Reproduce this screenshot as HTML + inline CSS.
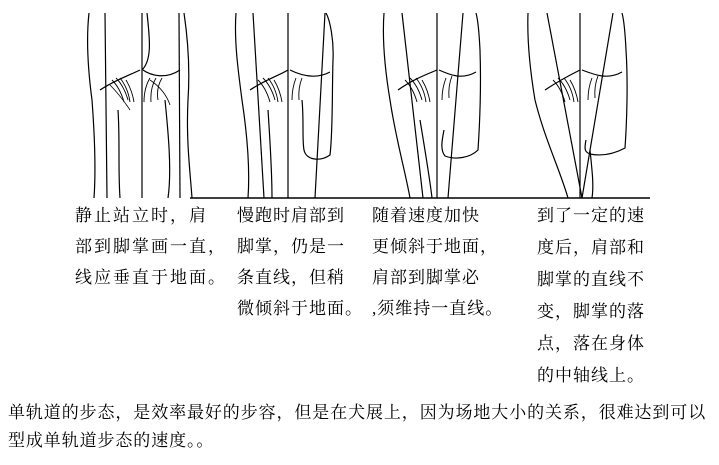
<!DOCTYPE html>
<html><head><meta charset="utf-8"><style>
body{margin:0;width:719px;height:465px;background:#fff;position:relative;overflow:hidden;font-family:"Liberation Serif","Noto Serif CJK SC","Noto Sans CJK SC",serif;color:#000}
.t{position:absolute;font-size:17px;line-height:31px;white-space:nowrap;letter-spacing:1px}
svg{position:absolute;left:0;top:0}
</style></head><body>
<svg width="719" height="210" viewBox="0 0 719 210" fill="none" stroke="#000" stroke-width="1.2">
<line x1="190" y1="198" x2="650" y2="198" stroke-width="1.6"/>
<!-- Panel 1 -->
<path d="M89 13 C86 40 88 70 92 100 C95 140 96 170 94 198"/>
<path d="M118 110 C120 140 118 170 120 198"/>
<path d="M147 13 C150 40 152 60 142 70"/>
<path d="M165 100 C168 130 172 170 168 198"/>
<path d="M184 13 C188 40 190 70 188 100 C186 140 190 170 192 198"/>
<path d="M100 90 C115 80 130 75 140 70 M143 70 C150 75 165 80 180 70"/>
<path d="M110 85 q10 10 20 25 M150 80 q15 10 20 25" stroke-width="0.8"/>
<path d="M112 80 q8 8 12 22 M116 78 q8 8 12 22 M120 78 q8 10 10 24 M126 80 q6 10 8 22 M150 78 q-6 10 -6 24 M156 78 q-6 10 -5 24 M162 78 q-6 10 -4 22" stroke-width="0.9"/>
<line x1="105" y1="13" x2="107" y2="198"/>
<line x1="142" y1="13" x2="142" y2="198"/>
<line x1="179" y1="13" x2="180" y2="198"/>
<!-- Panel 2 -->
<path d="M236 13 C234 40 238 70 242 100 C248 140 250 170 248 198"/>
<path d="M268 110 C270 140 272 170 272 198"/>
<path d="M302 100 C304 120 302 140 304 150 C306 160 320 162 330 155 C333 130 332 90 333 60 C334 40 330 20 326 13"/>
<path d="M250 90 C265 80 280 75 288 70 M290 70 C300 75 315 80 330 72"/>
<path d="M258 80 q8 8 12 22 M263 78 q8 8 12 22 M268 78 q8 10 10 24 M274 80 q6 10 8 22 M296 78 q-4 10 -4 22 M302 78 q-4 10 -3 22" stroke-width="0.9"/>
<line x1="253" y1="13" x2="264" y2="198"/>
<line x1="288" y1="13" x2="288" y2="198"/>
<line x1="325" y1="13" x2="315" y2="198"/>
<!-- Panel 3 -->
<path d="M384 13 C382 40 385 70 390 100 C396 140 405 170 410 198"/>
<path d="M420 120 C425 150 430 180 432 198"/>
<path d="M444 130 C442 140 440 150 445 156 C455 160 470 158 478 150 C480 120 481 80 480 50 C479 30 478 20 476 13"/>
<path d="M398 90 C412 80 425 75 437 70 M439 70 C450 75 462 80 476 72"/>
<path d="M405 80 q8 8 12 22 M410 78 q8 8 12 22 M416 78 q8 10 10 24 M422 80 q6 10 8 22 M446 78 q-4 10 -4 22 M452 76 q-4 10 -3 22" stroke-width="0.9"/>
<line x1="402" y1="13" x2="423" y2="198"/>
<line x1="437" y1="13" x2="437" y2="198"/>
<line x1="463" y1="13" x2="448" y2="198"/>
<!-- Panel 4 -->
<path d="M528 13 C527 40 530 70 535 100 C545 140 560 170 568 198"/>
<path d="M590 150 C592 170 594 185 592 198"/>
<path d="M586 140 C584 150 585 152 590 154 C600 156 612 155 625 148 C627 120 628 80 626 50 C625 30 624 20 622 13"/>
<path d="M545 90 C560 80 570 75 580 70 M582 70 C595 75 608 80 622 72"/>
<path d="M553 80 q8 8 12 22 M558 78 q8 8 12 22 M564 78 q8 10 10 24 M570 80 q6 10 8 22 M592 78 q-4 10 -4 22 M598 76 q-4 10 -3 22" stroke-width="0.9"/>
<line x1="547" y1="13" x2="582" y2="198"/>
<line x1="580" y1="13" x2="580" y2="198"/>
<line x1="613" y1="13" x2="582" y2="198"/>
</svg>
<div class="t" style="left:75px;top:200px;letter-spacing:2px">静止站立时，肩<br>部到脚掌画一直，<br>线应垂直于地面。</div>
<div class="t" style="left:237px;top:200px">慢跑时肩部到<br>脚掌，仍是一<br>条直线，但稍<br>微倾斜于地面。</div>
<div class="t" style="left:372px;top:200px">随着速度加快<br>更倾斜于地面，<br>肩部到脚掌必<br>,须维持一直线。</div>
<div class="t" style="left:537px;top:200px;line-height:32px">到了一定的速<br>度后，肩部和<br>脚掌的直线不<br>变，脚掌的落<br>点，落在身体<br>的中轴线上。</div>
<div class="t" style="left:8px;top:399px;letter-spacing:0.9px;line-height:28px">单轨道的步态，是效率最好的步容，但是在犬展上，因为场地大小的关系，很难达到可以<br>型成单轨道步态的速度。。</div>
</body></html>
